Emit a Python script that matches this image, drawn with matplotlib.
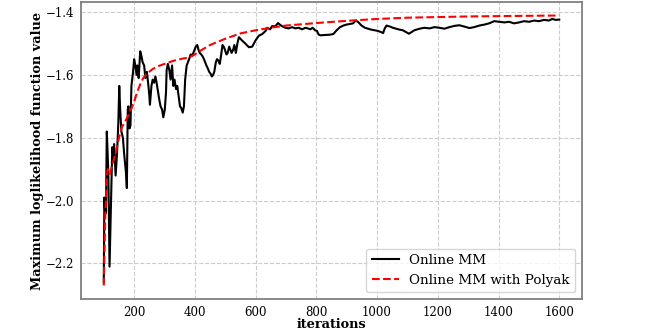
import numpy as np
import matplotlib.pyplot as plt

plt.rcParams['font.family'] = 'DejaVu Serif'

# Online MM
iters_mm = [100, 102, 104, 107, 110, 115, 119, 124, 128, 132, 134, 139, 143, 145, 148,
            151, 154, 158, 163, 167, 173, 176, 179, 181, 185, 188, 191, 196, 200, 204,
            208, 211, 215, 220, 224, 228, 233, 237, 242, 246, 250, 252, 257, 261, 266,
            270, 274, 279, 283, 287, 292, 296, 301, 305, 307, 311, 316, 320, 325, 329,
            333, 338, 342, 346, 351, 355, 360, 364, 368, 373, 377, 381, 386, 390, 395,
            399, 403, 408, 412, 416, 421, 425, 430, 434, 438, 443, 447, 451, 456, 460,
            464, 469, 473, 478, 482, 486, 491, 495, 499, 504, 508, 513, 517, 521, 526,
            530, 535, 540, 545, 556, 567, 578, 589, 600, 611, 622, 633, 638, 648, 654,
            665, 674, 680, 687, 698, 709, 720, 731, 742, 753, 764, 772, 780, 788, 796,
            802, 808, 813, 830, 845, 856, 867, 878, 889, 899, 910, 921, 930, 938, 949,
            960, 970, 981, 992, 1003, 1014, 1020, 1025, 1031, 1042, 1052, 1063, 1074,
            1085, 1096, 1105, 1113, 1123, 1140, 1156, 1173, 1189, 1205, 1222, 1238,
            1255, 1271, 1287, 1304, 1320, 1337, 1353, 1369, 1386, 1402, 1419, 1435,
            1451, 1468, 1484, 1501, 1517, 1533, 1550, 1566, 1577, 1588, 1600]
loglik_mm = [-2.26, -1.99, -2.03, -2.04, -1.78, -1.91, -2.21, -1.99, -1.83, -1.86, -1.82,
             -1.92, -1.86, -1.82, -1.75, -1.635, -1.71, -1.78, -1.80, -1.85, -1.91, -1.96,
             -1.71, -1.70, -1.77, -1.76, -1.635, -1.595, -1.55, -1.57, -1.60, -1.57, -1.61,
             -1.525, -1.54, -1.56, -1.57, -1.61, -1.59, -1.625, -1.665, -1.695, -1.635,
             -1.615, -1.625, -1.605, -1.625, -1.655, -1.68, -1.70, -1.71, -1.735, -1.71,
             -1.655, -1.585, -1.565, -1.585, -1.615, -1.57, -1.635, -1.615, -1.645, -1.635,
             -1.665, -1.70, -1.705, -1.72, -1.70, -1.615, -1.57, -1.56, -1.55, -1.535,
             -1.54, -1.53, -1.52, -1.51, -1.505, -1.52, -1.53, -1.535, -1.54, -1.55, -1.56,
             -1.57, -1.58, -1.59, -1.595, -1.605, -1.60, -1.59, -1.56, -1.55, -1.555,
             -1.565, -1.54, -1.505, -1.51, -1.52, -1.535, -1.53, -1.51, -1.52, -1.53,
             -1.52, -1.505, -1.53, -1.50, -1.48, -1.491, -1.501, -1.512, -1.51, -1.49,
             -1.475, -1.47, -1.46, -1.45, -1.455, -1.445, -1.445, -1.435, -1.44, -1.445,
             -1.45, -1.452, -1.448, -1.452, -1.45, -1.455, -1.45, -1.452, -1.455, -1.45,
             -1.458, -1.46, -1.472, -1.474, -1.473, -1.472, -1.47, -1.458, -1.448, -1.443,
             -1.44, -1.438, -1.436, -1.427, -1.432, -1.443, -1.45, -1.453, -1.456, -1.458,
             -1.46, -1.464, -1.467, -1.453, -1.443, -1.446, -1.45, -1.453, -1.456, -1.458,
             -1.464, -1.469, -1.464, -1.458, -1.453, -1.45, -1.452, -1.448, -1.45, -1.453,
             -1.448, -1.444, -1.442, -1.446, -1.451, -1.448, -1.443, -1.44, -1.436, -1.429,
             -1.431, -1.433, -1.431, -1.436, -1.433, -1.429, -1.431, -1.427, -1.429,
             -1.425, -1.427, -1.422, -1.425, -1.424]

# Online MM with Polyak averaging
iters_pk = [100, 105, 110, 113, 120, 130, 140, 150, 160, 170, 180, 190, 200, 210, 220,
            230, 240, 260, 280, 300, 330, 360, 380, 400, 420, 450, 500, 550, 600, 650,
            700, 800, 900, 1000, 1100, 1200, 1300, 1400, 1500, 1600]
loglik_pk = [-2.27, -2.05, -1.93, -1.90, -1.915, -1.88, -1.845, -1.80, -1.765, -1.75,
             -1.73, -1.71, -1.685, -1.655, -1.63, -1.61, -1.598, -1.582, -1.572, -1.565,
             -1.555, -1.548, -1.545, -1.535, -1.522, -1.505, -1.485, -1.468, -1.458,
             -1.45, -1.443, -1.435, -1.428, -1.422, -1.418, -1.416, -1.414, -1.413,
             -1.412, -1.411]

fig = plt.figure(figsize=(6.46, 3.31), dpi=100)
ax = fig.add_axes([81 / 646, 32 / 331, 501 / 646, 297 / 331])

ax.plot(iters_mm, loglik_mm, color='black', lw=1.5, label='Online MM')
ax.plot(iters_pk, loglik_pk, color='red', lw=1.5, ls='--', label='Online MM with Polyak')

ax.grid(True, ls='--', color='#cccccc', lw=0.8)
ax.set_axisbelow(True)
for s in ax.spines.values():
    s.set_color('#808080')
    s.set_linewidth(1.3)
ax.tick_params(length=0, pad=5, labelsize=8.5)

ax.set_xlabel('iterations', fontweight='bold', fontsize=9.3, labelpad=-1)
ax.set_ylabel('Maximum loglikelihood function value', fontweight='bold', fontsize=9.3,
              labelpad=1)
ax.legend(loc='lower right', fontsize=9.7)

fig.savefig('out.png', dpi=100)
